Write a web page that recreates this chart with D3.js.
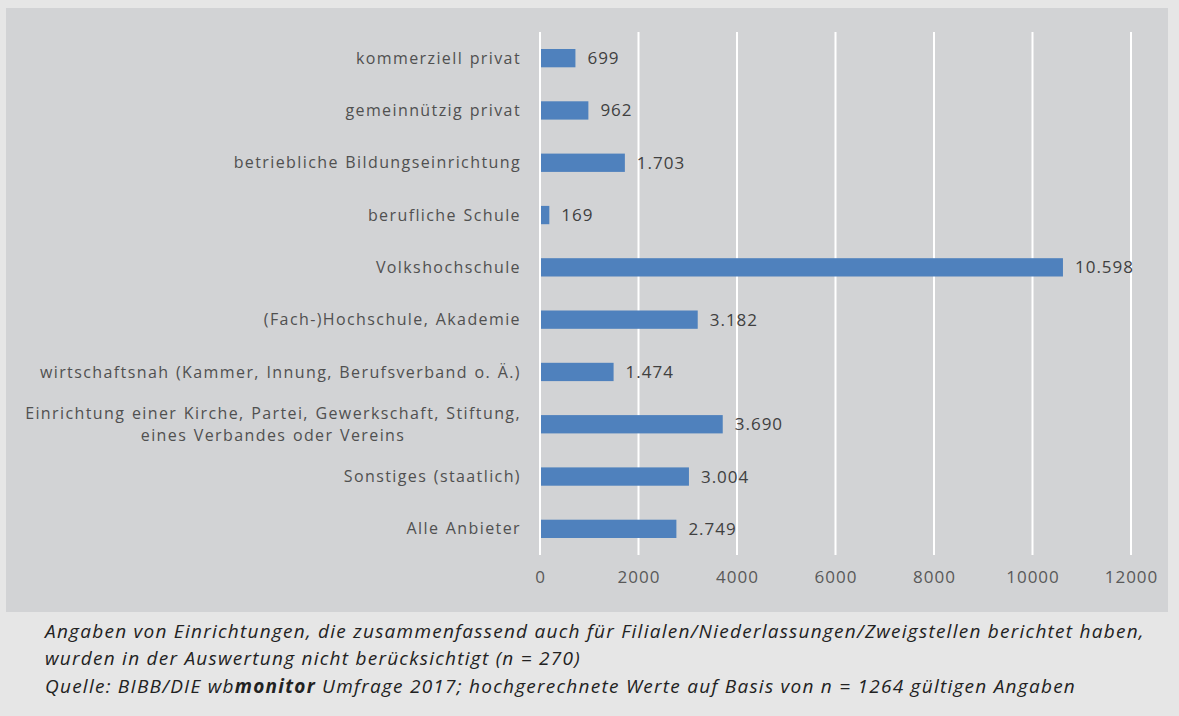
<!DOCTYPE html>
<html>
<head>
<meta charset="utf-8">
<script src="https://cdn.jsdelivr.net/npm/d3@7/dist/d3.min.js"></script>
<style>
  body { margin: 0; background: #e6e6e6; }
  svg { display: block; }
</style>
</head>
<body>
<div id="chart"></div>
<script>
// categories top to bottom, the long one is split in two lines
const categories = [
  ['kommerziell privat'],
  ['gemeinnützig privat'],
  ['betriebliche Bildungseinrichtung'],
  ['berufliche Schule'],
  ['Volkshochschule'],
  ['(Fach-)Hochschule, Akademie'],
  ['wirtschaftsnah (Kammer, Innung, Berufsverband o. Ä.)'],
  ['Einrichtung einer Kirche, Partei, Gewerkschaft, Stiftung,', 'eines Verbandes oder Vereins'],
  ['Sonstiges (staatlich)'],
  ['Alle Anbieter']
]
const values = [699, 962, 1703, 169, 10598, 3182, 1474, 3690, 3004, 2749]
const xTicks = [0, 2000, 4000, 6000, 8000, 10000, 12000]

const footLines = [
  'Angaben von Einrichtungen, die zusammenfassend auch für Filialen/Niederlassungen/Zweigstellen berichtet haben,',
  'wurden in der Auswertung nicht berücksichtigt (n = 270)'
]

const W = 1179, H = 716
const de = d3.formatLocale({ decimal: ',', thousands: '.', grouping: [3], currency: ['', '€'] })
const fmt = de.format(',d')

const svg = d3.select('#chart').append('svg')
  .attr('width', W)
  .attr('height', H)
  .style('font-family', '"Open Sans", sans-serif')

// chart panel
svg.append('rect')
  .attr('x', 6).attr('y', 8)
  .attr('width', 1162).attr('height', 604)
  .attr('fill', '#d2d3d5')

const x = d3.scaleLinear().domain([0, 12000]).range([540, 1131])
const y = d3.scaleBand()
  .domain(d3.range(categories.length))
  .range([32, 555])
  .paddingInner(0.65)
  .paddingOuter(0.325)

// grid
svg.append('g').selectAll('line')
  .data(xTicks)
  .enter()
  .append('line')
  .attr('x1', d => x(d)).attr('x2', d => x(d))
  .attr('y1', 32).attr('y2', 555)
  .attr('stroke', '#ffffff')
  .attr('stroke-width', 2)

// x axis labels
const xAxis = d3.axisBottom(x).tickValues(xTicks).tickFormat(d3.format('d')).tickSize(0).tickPadding(15)
const gx = svg.append('g').attr('transform', 'translate(0,556)').call(xAxis)
gx.select('.domain').remove()
gx.selectAll('text')
  .attr('fill', '#595959')
  .style('font-size', '17px')
  .style('letter-spacing', '1px')
  .style('font-family', '"Open Sans", sans-serif')

// bars
svg.append('g').selectAll('rect')
  .data(values)
  .enter()
  .append('rect')
  .attr('x', x(0) + 1)
  .attr('y', (d, i) => y(i))
  .attr('width', d => x(d) - x(0))
  .attr('height', y.bandwidth())
  .attr('fill', '#4f81bd')

// value labels
svg.append('g').selectAll('text')
  .data(values)
  .enter()
  .append('text')
  .attr('x', d => x(d) + 13)
  .attr('y', (d, i) => y(i) + y.bandwidth() / 2)
  .attr('dy', '0.35em')
  .attr('fill', '#404040')
  .style('font-size', '17px')
  .style('letter-spacing', '1px')
  .text(d => fmt(d))

// category labels
const labG = svg.append('g')
  .attr('fill', '#505050')
  .style('font-size', '16px')
  .style('letter-spacing', '1.4px')
  .style('word-spacing', '1px')
categories.forEach((lines, i) => {
  const cy = y(i) + y.bandwidth() / 2
  const t = labG.append('text')
  if (lines.length === 1) {
    t.attr('x', 521).attr('y', cy).attr('dy', '0.35em').attr('text-anchor', 'end').text(lines[0])
  } else {
    t.attr('text-anchor', 'middle').attr('y', cy - 11).attr('dy', '0.35em').text(lines[0])
    const cx = 521 - t.node().getComputedTextLength() / 2
    t.attr('x', cx)
    labG.append('text')
      .attr('text-anchor', 'middle')
      .attr('x', cx).attr('y', cy + 11).attr('dy', '0.35em')
      .text(lines[1])
  }
})

// footnotes
const foot = svg.append('g')
  .attr('fill', '#222')
  .style('font-style', 'italic')
  .style('font-size', '19px')
  .style('letter-spacing', '1.25px')
foot.selectAll('text.n')
  .data(footLines)
  .enter()
  .append('text')
  .attr('class', 'n')
  .attr('x', 45)
  .attr('y', (d, i) => 638 + i * 27)
  .text(d => d)

const src = foot.append('text').attr('x', 45).attr('y', 693)
src.append('tspan').text('Quelle: BIBB/DIE wb')
src.append('tspan').style('font-weight', 'bold').text('monitor')
src.append('tspan').text(' Umfrage 2017; hochgerechnete Werte auf Basis von n = 1264 gültigen Angaben')
</script>
</body>
</html>
